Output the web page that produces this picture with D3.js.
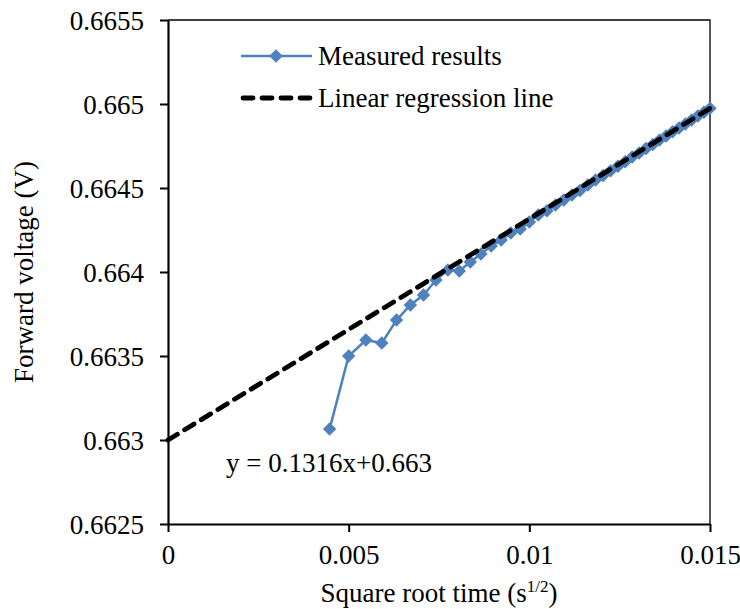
<!DOCTYPE html>
<html>
<head>
<meta charset="utf-8">
<script src="https://cdn.jsdelivr.net/npm/d3@7"></script>
<style>
  html, body { margin: 0; padding: 0; background: #fff; }
  svg { display: block; font-family: "Liberation Serif", "Times New Roman", serif; }
</style>
</head>
<body>
<svg id="chart" width="740" height="609"></svg>
<script>
// Square root of elapsed time (s^1/2)
const sqrtTime = [
  0.004472, 0.005000, 0.005477, 0.005916, 0.006325, 0.006708, 0.007071, 0.007416,
  0.007746, 0.008062, 0.008367, 0.008660, 0.008944, 0.009220, 0.009487, 0.009747,
  0.010000, 0.010247, 0.010488, 0.010724, 0.010954, 0.011180, 0.011402, 0.011619,
  0.011832, 0.012042, 0.012247, 0.012450, 0.012649, 0.012845, 0.013038, 0.013229,
  0.013416, 0.013601, 0.013784, 0.013964, 0.014142, 0.014318, 0.014491, 0.014663,
  0.014832, 0.015000
];
// Measured forward voltage (V)
const forwardVoltage = [
  0.663065, 0.663500, 0.663595, 0.663577, 0.663714, 0.663804, 0.663863, 0.663952,
  0.664012, 0.664006, 0.664060, 0.664107, 0.664155, 0.664190, 0.664232, 0.664256,
  0.664298, 0.664339, 0.664365, 0.664399, 0.664429, 0.664458, 0.664485, 0.664518,
  0.664548, 0.664574, 0.664602, 0.664630, 0.664656, 0.664685, 0.664708, 0.664735,
  0.664759, 0.664785, 0.664810, 0.664835, 0.664857, 0.664881, 0.664905, 0.664929,
  0.664951, 0.664974
];
// Linear fit y = slope * x + intercept
const fitSlope = 0.1316;
const fitIntercept = 0.663;
const fitRange = [0, 0.015];

const xTicks = [0, 0.005, 0.01, 0.015];
const xTickLabels = ["0", "0.005", "0.01", "0.015"];
const yTicks = [0.6625, 0.663, 0.6635, 0.664, 0.6645, 0.665, 0.6655];
const yTickLabels = ["0.6625", "0.663", "0.6635", "0.664", "0.6645", "0.665", "0.6655"];

const legendLabels = ["Measured results", "Linear regression line"];
const equationLabel = "y = 0.1316x+0.663";

const blue = "#4F81BD";
const fontSize = 27;
const svg = d3.select("#chart");
const plotLeft = 168, plotRight = 710, plotTop = 20, plotBottom = 524;

const x = d3.scaleLinear().domain([0, 0.015]).range([plotLeft, plotRight]);
const y = d3.scaleLinear().domain([0.6625, 0.6655]).range([plotBottom, plotTop]);

// plot frame (top and right edges)
svg.append("path")
  .attr("d", `M${plotLeft},${plotTop}H${plotRight}V${plotBottom}`)
  .attr("fill", "none").attr("stroke", "#000").attr("stroke-width", 1.3);

// axes
const xAxis = d3.axisBottom(x).tickValues(xTicks).tickFormat((d, i) => xTickLabels[i]).tickSizeOuter(0).tickSizeInner(8).tickPadding(13);
const gx = svg.append("g").attr("transform", `translate(0,${plotBottom})`).call(xAxis);
const yAxis = d3.axisLeft(y).tickValues(yTicks).tickFormat((d, i) => yTickLabels[i]).tickSizeOuter(0).tickSizeInner(8).tickPadding(16);
const gy = svg.append("g").attr("transform", `translate(${plotLeft},0)`).call(yAxis);

[gx, gy].forEach(g => {
  g.select(".domain").attr("stroke", "#000").attr("stroke-width", 2.2);
  g.selectAll(".tick line").attr("stroke", "#000").attr("stroke-width", 2);
  g.selectAll(".tick text")
    .attr("font-family", "Liberation Serif, Times New Roman, serif")
    .attr("font-size", fontSize).attr("fill", "#000");
});
gy.selectAll(".tick text").attr("dy", "0.34em");
gx.selectAll(".tick text").attr("dy", "0.72em");

// measured series
const line = d3.line().x(d => x(d[0])).y(d => y(d[1]));
const pts = sqrtTime.map((t, i) => [t, forwardVoltage[i]]);
svg.append("path").datum(pts)
  .attr("d", line).attr("fill", "none")
  .attr("stroke", blue).attr("stroke-width", 2.5);
const diamond = d3.symbol().type(d3.symbolDiamond2).size(115);
svg.append("g").selectAll("path").data(pts).join("path")
  .attr("transform", d => `translate(${x(d[0])},${y(d[1])})`)
  .attr("d", diamond).attr("fill", blue);

// regression line
const fitPts = fitRange.map(v => [v, fitSlope * v + fitIntercept]);
svg.append("path").datum(fitPts)
  .attr("d", line).attr("fill", "none")
  .attr("stroke", "#000").attr("stroke-width", 4.8)
  .attr("stroke-dasharray", "11,8.5").attr("stroke-linecap", "round");

// equation label
svg.append("text").attr("x", 226).attr("y", 472)
  .attr("font-size", fontSize).text(equationLabel);

// legend
const lg = svg.append("g");
lg.append("line").attr("x1", 241).attr("x2", 312).attr("y1", 56).attr("y2", 56)
  .attr("stroke", blue).attr("stroke-width", 2.5);
lg.append("path").attr("transform", "translate(276,56)").attr("d", diamond).attr("fill", blue);
lg.append("line").attr("x1", 243).attr("x2", 312).attr("y1", 98).attr("y2", 98)
  .attr("stroke", "#000").attr("stroke-width", 4.8)
  .attr("stroke-dasharray", "10,9").attr("stroke-linecap", "round");
lg.append("text").attr("x", 318).attr("y", 65).attr("font-size", fontSize).text(legendLabels[0]);
lg.append("text").attr("x", 318).attr("y", 107).attr("font-size", fontSize).text(legendLabels[1]);

// axis titles
const xt = svg.append("text").attr("x", (plotLeft + plotRight) / 2).attr("y", 602)
  .attr("text-anchor", "middle").attr("font-size", fontSize);
xt.append("tspan").text("Square root time (s");
xt.append("tspan").attr("font-size", 17).attr("dy", -10).text("1/2");
xt.append("tspan").attr("dy", 10).text(")");

svg.append("text")
  .attr("transform", `translate(33,${(plotTop + plotBottom) / 2}) rotate(-90)`)
  .attr("text-anchor", "middle").attr("font-size", fontSize)
  .text("Forward voltage (V)");
</script>
</body>
</html>
